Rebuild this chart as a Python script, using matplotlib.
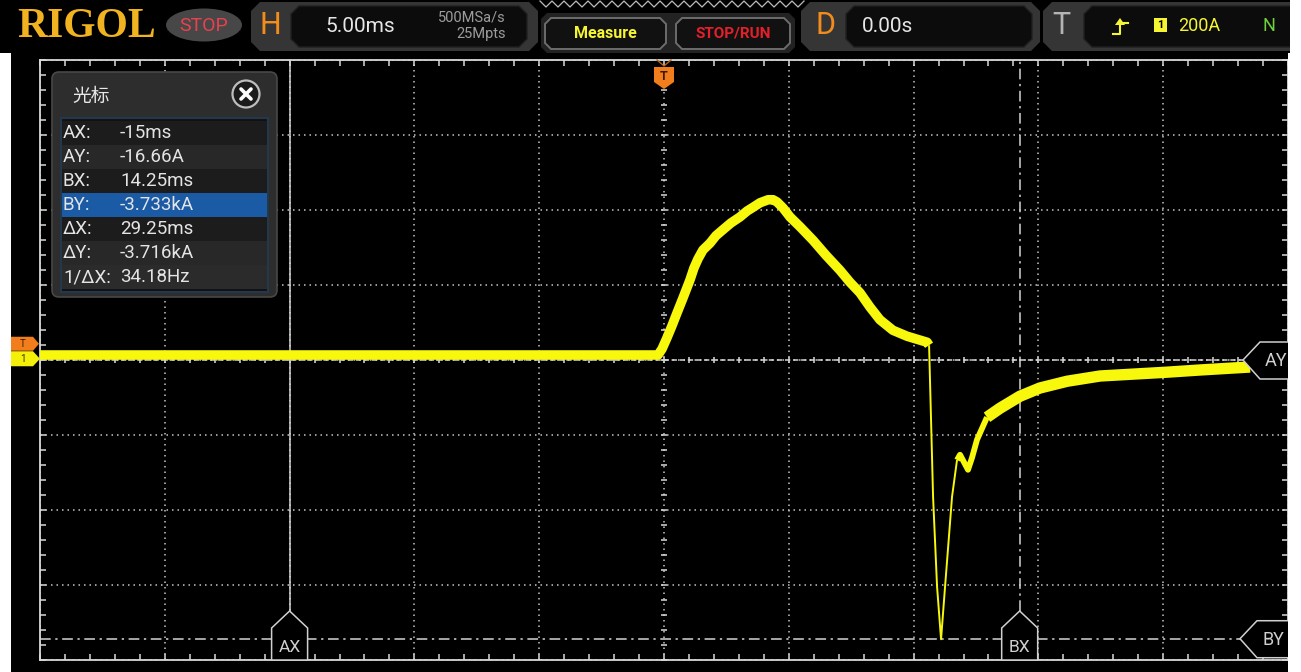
import matplotlib
matplotlib.use("Agg")
import matplotlib.pyplot as plt
import numpy as np
from matplotlib.patches import Polygon, Rectangle, FancyBboxPatch, Ellipse, Circle

# ---------------- data ----------------
time_ms = [-25.0, -0.24, -0.08, 0.12, 0.32, 0.52, 0.76, 1.04, 1.20, 1.36,
           1.56, 1.84, 2.08, 2.36, 2.68, 3.04, 3.33, 3.57, 3.85, 4.17,
           4.37, 4.53, 4.77, 5.05, 5.45, 5.97, 6.49, 7.05, 7.45, 7.85,
           8.25, 8.65, 9.17, 9.74, 10.54, 10.62,
           10.78, 10.94, 11.10, 11.26, 11.54, 11.74, 11.86, 12.02, 12.18, 12.34,
           12.54, 12.94, 13.46, 14.26, 15.06, 16.15, 17.47, 20.11, 21.47, 23.48]
current_kA = [0.05, 0.05, 0.13, 0.28, 0.44, 0.61, 0.81, 1.05, 1.21, 1.33,
              1.45, 1.54, 1.64, 1.72, 1.81, 1.89, 1.97, 2.02, 2.08, 2.12,
              2.12, 2.09, 2.01, 1.89, 1.76, 1.58, 1.38, 1.18, 1.02, 0.88,
              0.69, 0.52, 0.38, 0.30, 0.22, 0.18,
              -1.84, -3.04, -3.74, -3.04, -1.84, -1.35, -1.28, -1.38, -1.48, -1.32,
              -1.08, -0.78, -0.66, -0.50, -0.39, -0.30, -0.23, -0.18, -0.15, -0.11]

cursor_ax_ms = -15.0
cursor_bx_ms = 14.25
cursor_ay_kA = -0.01666
cursor_by_kA = -3.733
trigger_level_kA = 0.2
time_per_div_ms = 5.0
kA_per_div = 1.0
screen_center_kA = -0.01667

readout_labels = ["AX:", "AY:", "BX:", "BY:", "\u0394X:", "\u0394Y:", "1/\u0394X:"]
readout_values = ["-15ms", "-16.66A", "14.25ms", "-3.733kA", "29.25ms", "-3.716kA", "34.18Hz"]

timebase_text = "5.00ms"
sample_rate_text = "500MSa/s"
memory_depth_text = "25Mpts"
delay_text = "0.00s"
trigger_text = "200A"

# ---------------- figure ----------------
W, H = 1301, 672
fig = plt.figure(figsize=(W / 100, H / 100), dpi=100, facecolor="white")
UI = ["Roboto", "DejaVu Sans"]

bg = fig.add_axes([0, 0, 1, 1], zorder=0)
bg.set_xlim(0, W); bg.set_ylim(H, 0); bg.axis("off")
bg.add_patch(Rectangle((0, 0), 1290, 53, fc="black", ec="none"))
bg.add_patch(Rectangle((11, 50), 1277, 622, fc="black", ec="none"))

# graticule / data axes
ax = fig.add_axes([40 / W, (H - 660) / H, 1248 / W, 600 / H], zorder=1)
ax.set_facecolor("none")
xl = (-5 * time_per_div_ms, 5 * time_per_div_ms)
yl = (screen_center_kA - 4 * kA_per_div, screen_center_kA + 4 * kA_per_div)
ax.set_xlim(*xl); ax.set_ylim(*yl)
ax.set_xticks(np.arange(xl[0], xl[1] + 0.01, time_per_div_ms))
ax.set_xticks(np.arange(xl[0], xl[1] + 0.01, time_per_div_ms / 5), minor=True)
ax.set_yticks(screen_center_kA + np.arange(-4, 5) * kA_per_div)
ax.set_yticks(screen_center_kA + np.arange(-4, 4.01, 0.2) * kA_per_div, minor=True)
ax.grid(which="major", color="#c4c4c4", linestyle=(0, (1, 2.6)), linewidth=1.1)
for s in ax.spines.values():
    s.set_color("#d9d9d9"); s.set_linewidth(1.3)
ax.tick_params(which="both", direction="in", color="#d9d9d9", top=True, right=True,
               labelleft=False, labelbottom=False, length=4, width=1.1)
# ticks on the centre axes
mx = np.arange(xl[0], xl[1] + 0.01, time_per_div_ms / 5)
my = screen_center_kA + np.arange(-4, 4.01, 0.2) * kA_per_div
ax.plot(mx, np.full_like(mx, screen_center_kA), ls="none", marker="|", ms=5, mew=1.1, color="#d9d9d9", zorder=2)
ax.plot(np.zeros_like(my), my, ls="none", marker="_", ms=5, mew=1.1, color="#d9d9d9", zorder=2)

# cursor lines
ax.axvline(cursor_ax_ms, ymin=(660 - 611) / 600, ymax=1, color="#d4d4d4", lw=1.1, zorder=3)
ax.axvline(cursor_bx_ms, ymin=(660 - 611) / 600, ymax=1, color="#d4d4d4", lw=1.1,
           ls=(0, (7, 3, 1.5, 3)), zorder=3)
ax.axhline(cursor_ay_kA, xmin=0, xmax=(1243 - 40) / 1248, color="#d4d4d4", lw=1.1,
           ls=(0, (3.5, 1.8)), zorder=3)
ax.axhline(cursor_by_kA, xmin=0, xmax=(1240 - 40) / 1248, color="#d4d4d4", lw=1.1,
           ls=(0, (7, 3, 1.5, 3)), zorder=3)

# waveform
t = np.array(time_ms); v = np.array(current_kA)
yellow = "#f8f80c"
segs = [((t <= 10.62), 6.9), (((t >= 10.62) & (t <= 11.74)), 1.4),
        (((t >= 11.74) & (t <= 12.94)), 4.2), ((t >= 12.94), 8.2)]
for m, lw in segs:
    ax.plot(t[m], v[m], color=yellow, lw=lw, solid_capstyle="butt",
            solid_joinstyle="round", zorder=5)

# ---------------- overlay UI ----------------
ov = fig.add_axes([0, 0, 1, 1], zorder=3)
ov.set_xlim(0, W); ov.set_ylim(H, 0); ov.axis("off"); ov.set_facecolor("none")
fig.canvas.draw()

def to_px(x, y):
    px, py = ax.transData.transform((x, y))
    return px, H - py

def chamfer(x0, y0, x1, y1, c):
    return [(x0 + c, y0), (x1 - c, y0), (x1, y0 + c), (x1, y1 - c),
            (x1 - c, y1), (x0 + c, y1), (x0, y1 - c), (x0, y0 + c)]

lc = "#d0d0d0"
# AX / BX labels at the bottom
for xv, name in [(cursor_ax_ms, "AX"), (cursor_bx_ms, "BX")]:
    xa, _ = to_px(xv, 0)
    ov.add_patch(Polygon([(xa - 18, 660), (xa - 18, 628), (xa, 611), (xa + 18, 628), (xa + 18, 660)],
                         closed=True, fc="black", ec=lc, lw=1.1, zorder=4))
    ov.text(xa, 647, name, color=lc, fontsize=12.5, family=UI, ha="center", va="center", zorder=5)
# AY / BY labels at the right
for yv, tipx, name in [(cursor_ay_kA, 1243, "AY"), (cursor_by_kA, 1240, "BY")]:
    _, ya = to_px(0, yv)
    ov.add_patch(Polygon([(tipx, ya), (tipx + 17, ya - 18), (1300, ya - 18), (1300, ya + 19),
                          (tipx + 17, ya + 19)], closed=True, fc="black", ec=lc, lw=1.1, zorder=4))
    ov.text(tipx + 22, ya + 1, name, color=lc, fontsize=13, family=UI, ha="left", va="center", zorder=5)

# left channel / trigger level markers
_, yT = to_px(0, trigger_level_kA)
_, y1 = to_px(0, 0)
ov.add_patch(Polygon([(11, yT - 7), (33, yT - 7), (39, yT), (33, yT + 7), (11, yT + 7)],
                     fc="#f27d1c", ec="none", zorder=4))
ov.text(23, yT, "T", color="#402000", fontsize=7, ha="center", va="center", family=UI, zorder=5)
ov.add_patch(Polygon([(11, y1 - 7.5), (33, y1 - 7.5), (40, y1), (33, y1 + 7.5), (11, y1 + 7.5)],
                     fc="#f5f00a", ec="none", zorder=4))
ov.text(23, y1, "1", color="#303000", fontsize=7, ha="center", va="center", family=UI, zorder=5)

# trigger position marker at top
xt, _ = to_px(0, 0)
ov.plot([xt - 7, xt, xt + 7], [60, 66, 60], color="#b06018", lw=1, zorder=4)
ov.add_patch(Polygon([(xt - 10, 67), (xt + 10, 67), (xt + 10, 82), (xt, 89), (xt - 10, 82)],
                     fc="#f27d1c", ec="none", zorder=4))
ov.text(xt, 77, "T", color="#3a1a00", fontsize=9, ha="center", va="center", family=UI,
        fontweight="bold", zorder=5)

# cursor readout panel
ov.add_patch(FancyBboxPatch((52, 72), 225, 225, boxstyle="round,pad=0,rounding_size=7",
                            fc="#2d2d2d", ec="#484848", lw=1.2, zorder=6))
ov.text(72, 96, "\u5149\u6807", color="#e8e8e8", fontsize=13.5,
        family=["Noto Sans CJK SC", "DejaVu Sans"], ha="left", va="center", zorder=7)
ov.add_patch(Circle((246, 94), 13.5, fc="#1b1b1b", ec="#bdbdbd", lw=1.6, zorder=7))
ov.plot([241, 251], [89, 99], color="white", lw=2.6, solid_capstyle="round", zorder=8)
ov.plot([241, 251], [99, 89], color="white", lw=2.6, solid_capstyle="round", zorder=8)
ov.add_patch(Rectangle((61, 118), 207, 174, fc="#121212", ec="#23384d", lw=1.5, zorder=7))
row_cols = ["#1c1c1c", "#282828", "#1c1c1c", "#1b5aa5", "#1c1c1c", "#282828", "#2b2b2b"]
for i, (lab, val) in enumerate(zip(readout_labels, readout_values)):
    y0 = 121 + 24 * i
    ov.add_patch(Rectangle((62, y0), 205, 24, fc=row_cols[i], ec="none", zorder=7))
    ov.text(63, y0 + 12.5, lab, color="#e4e4e4", fontsize=13.5, family=UI, ha="left", va="center", zorder=8)
    ov.text(120, y0 + 12.5, val, color="#e4e4e4", fontsize=13.5, family=UI, ha="left", va="center", zorder=8)

# ---------------- top bar ----------------
ov.text(17, 27, "RIGOL", color="#f1b31f", fontsize=30, fontweight="bold",
        family=["Liberation Serif", "DejaVu Serif"], ha="left", va="center", zorder=5)
ov.add_patch(Ellipse((204, 25), 76, 33, fc="#474747", ec="none", zorder=4))
ov.text(204, 26, "STOP", color="#ea4150", fontsize=14, family=UI, ha="center", va="center", zorder=5)

panel = "#353535"
inner = "#0c0c0c"
ov.add_patch(Polygon(chamfer(251, 2, 538, 51, 9), fc=panel, ec="none", zorder=4))
ov.add_patch(Polygon(chamfer(291, 6, 527, 47, 8), fc=inner, ec="#202020", zorder=4))
ov.text(270, 26, "H", color="#f28c1c", fontsize=22, family=UI, ha="center", va="center", zorder=5)
ov.text(325, 26, timebase_text, color="#e6e6e6", fontsize=15, family=UI, ha="left", va="center", zorder=5)
ov.text(506, 17, sample_rate_text, color="#9c9c9c", fontsize=10.5, family=UI, ha="right", va="center", zorder=5)
ov.text(506, 34, memory_depth_text, color="#9c9c9c", fontsize=10.5, family=UI, ha="right", va="center", zorder=5)

zx = np.arange(540, 810, 6.0)
zy = np.where(np.arange(len(zx)) % 2 == 0, 1.0, 7.0)
ov.plot(zx, zy, color="#bdbdbd", lw=0.9, zorder=4)

ov.add_patch(Polygon(chamfer(541, 13, 795, 53, 6), fc="#222222", ec="none", zorder=4))
ov.add_patch(Polygon(chamfer(545, 18, 666, 49, 6), fc="#111111", ec="#6c6c6c", lw=1.4, zorder=4))
ov.text(605.5, 34, "Measure", color="#f5f532", fontsize=11.5, fontweight="bold",
        family=UI, ha="center", va="center", zorder=5)
ov.add_patch(Polygon(chamfer(676, 18, 790, 49, 6), fc="#111111", ec="#6c6c6c", lw=1.4, zorder=4))
ov.text(733, 34, "STOP/RUN", color="#e3202a", fontsize=11, fontweight="bold",
        family=UI, ha="center", va="center", zorder=5)

ov.add_patch(Polygon(chamfer(801, 2, 1040, 51, 9), fc=panel, ec="none", zorder=4))
ov.add_patch(Polygon(chamfer(846, 6, 1032, 47, 8), fc=inner, ec="#202020", zorder=4))
ov.text(826, 26, "D", color="#f28c1c", fontsize=22, family=UI, ha="center", va="center", zorder=5)
ov.text(862, 26, delay_text, color="#e6e6e6", fontsize=15, family=UI, ha="left", va="center", zorder=5)

ov.add_patch(Polygon(chamfer(1043, 2, 1310, 51, 9), fc=panel, ec="none", zorder=4))
ov.add_patch(Polygon(chamfer(1084, 6, 1310, 47, 8), fc=inner, ec="#202020", zorder=4))
ov.text(1061, 26, "T", color="#b4b4b4", fontsize=22, family=UI, ha="center", va="center", zorder=5)
ov.plot([1113, 1120, 1120, 1128], [34, 34, 23, 23], color="#f5f532", lw=1.5, zorder=5)
ov.add_patch(Polygon([(1115, 25), (1125, 25), (1120, 18)], fc="#f5f532", ec="none", zorder=5))
ov.add_patch(Rectangle((1154, 18), 13, 14, fc="#f5f532", ec="none", zorder=5))
ov.text(1160.5, 25.5, "1", color="black", fontsize=8, fontweight="bold", family=UI,
        ha="center", va="center", zorder=6)
ov.text(1178, 26, trigger_text, color="#f5f532", fontsize=13, family=UI, ha="left", va="center", zorder=5)
ov.text(1262, 26, "N", color="#6fd23a", fontsize=13, family=UI, ha="left", va="center", zorder=5)

# white frame outside the scope screen
ov.add_patch(Rectangle((1288, 53), 20, 630, fc="white", ec="none", zorder=20))
ov.add_patch(Rectangle((1290, -5), 20, 60, fc="white", ec="none", zorder=20))
ov.add_patch(Rectangle((-5, 53), 16, 630, fc="white", ec="none", zorder=20))

fig.savefig("out.png", dpi=100, facecolor="white")
